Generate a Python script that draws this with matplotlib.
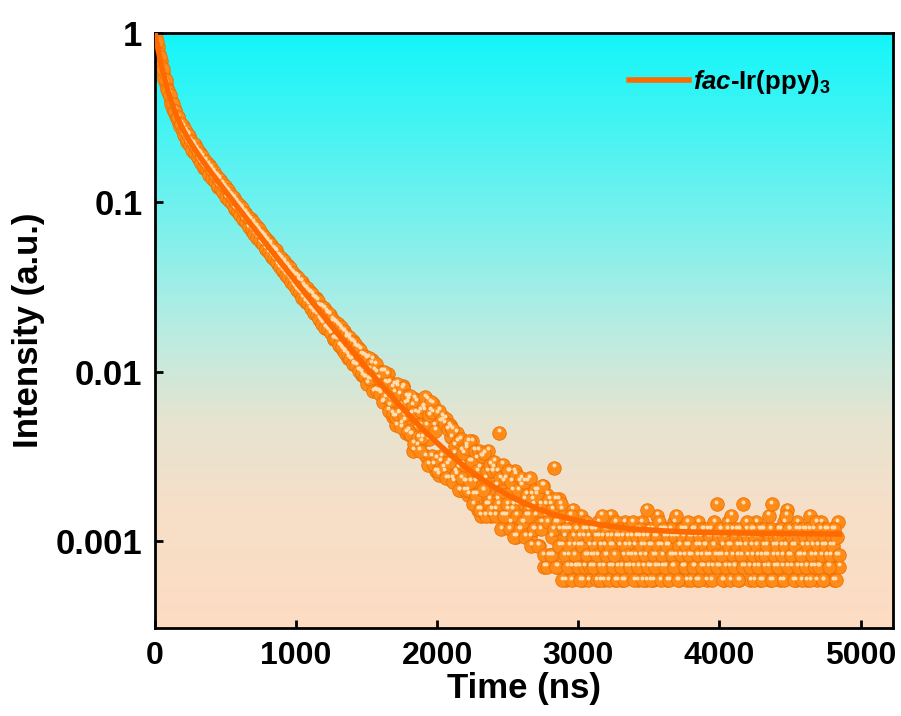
import numpy as np
import matplotlib
matplotlib.use("Agg")
import matplotlib.pyplot as plt
from matplotlib.colors import LinearSegmentedColormap
from matplotlib.ticker import FixedLocator, FixedFormatter, NullLocator
from matplotlib.transforms import ScaledTranslation

plt.rcParams['font.family'] = ['Liberation Sans', 'DejaVu Sans']
plt.rcParams['font.weight'] = 'bold'
plt.rcParams['mathtext.fontset'] = 'custom'
plt.rcParams['mathtext.rm'] = 'Liberation Sans:bold'
plt.rcParams['mathtext.bf'] = 'Liberation Sans:bold'
plt.rcParams['mathtext.it'] = 'Liberation Sans:italic:bold'

# --- data -------------------------------------------------------------------
# TRPL decay, photon counts (peak normalised to 1), 5 ns channels split in
# the even (0, 10, 20 ...) and odd (5, 15, 25 ...) channels
peak_counts = 8500
time_even = np.arange(0, 4860, 10)
time_odd = np.arange(5, 4850, 10)

counts_even = [
    8500, 7590, 7010, 6240, 5840, 5210, 4930, 4460, 4250, 3870,
    3720, 3390, 3310, 3040, 2990, 2750, 2720, 2510, 2500, 2310,
    2388, 2105, 2203, 1924, 2100, 1861, 1917, 1715, 1842, 1635,
    1721, 1530, 1660, 1463, 1527, 1358, 1477, 1329, 1415, 1236,
    1344, 1174, 1253, 1128, 1202, 1049, 1154, 1019, 1066, 960,
    1033, 903, 992, 867, 927, 834, 899, 777, 847, 748,
    814, 712, 768, 670, 737, 652, 688, 614, 674, 578,
    630, 550, 611, 529, 571, 493, 549, 485, 523, 452,
    502, 431, 474, 405, 451, 394, 433, 367, 405, 353,
    393, 334, 371, 321, 360, 302, 336, 291, 323, 271,
    314, 257, 292, 247, 288, 238, 268, 220, 257, 213,
    250, 199, 233, 192, 231, 185, 210, 171, 206, 165,
    200, 155, 187, 149, 184, 145, 169, 133, 166, 131,
    159, 121, 150, 115, 147, 113, 135, 103, 132, 101,
    129, 94, 120, 92, 118, 87, 108, 81, 106, 79,
    102, 76, 88, 78, 100, 77, 66, 84, 76, 65,
    65, 85, 57, 73, 64, 82, 54, 58, 69, 46,
    64, 41, 70, 49, 54, 42, 70, 44, 37, 56,
    58, 36, 48, 29, 59, 40, 31, 48, 41, 33,
    52, 50, 27, 58, 34, 50, 27, 55, 41, 22,
    48, 21, 43, 27, 46, 22, 45, 24, 20, 41,
    35, 20, 28, 22, 37, 23, 17, 29, 24, 19,
    19, 31, 16, 25, 21, 33, 16, 19, 26, 13,
    23, 12, 27, 17, 20, 14, 29, 15, 12, 22,
    23, 13, 18, 15, 37, 16, 12, 19, 16, 12,
    13, 22, 11, 17, 14, 22, 9, 14, 19, 10,
    18, 11, 15, 12, 19, 13, 9, 16, 14, 10,
    12, 17, 8, 14, 11, 18, 6, 12, 16, 7,
    14, 9, 7, 23, 11, 6, 15, 10, 13, 8,
    9, 5, 11, 7, 10, 6, 13, 8, 6, 10,
    8, 6, 12, 5, 9, 7, 10, 5, 8, 7,
    10, 7, 9, 5, 11, 6, 8, 9, 5, 10,
    7, 9, 6, 12, 8, 10, 5, 9, 6, 8,
    10, 5, 7, 11, 6, 9, 8, 10, 7, 6,
    8, 10, 5, 9, 7, 11, 6, 8, 5, 9,
    10, 6, 8, 5, 9, 7, 12, 6, 10, 8,
    6, 9, 10, 5, 8, 7, 9, 6, 11, 7,
    9, 5, 8, 10, 6, 7, 10, 5, 8, 9,
    7, 10, 6, 9, 5, 11, 8, 7, 10, 6,
    8, 5, 9, 7, 10, 6, 8, 9, 14, 7,
    6, 10, 8, 5, 9, 7, 11, 6, 8, 10,
    9, 6, 10, 7, 5, 8, 9, 14, 6, 10,
    7, 9, 5, 8, 10, 6, 11, 7, 9, 5,
    10, 8, 6, 9, 7, 12, 5, 14, 8, 6,
    9, 7, 10, 5, 8, 6, 11, 9, 13, 7,
    10, 6, 8, 9, 5, 11, 7, 10, 6, 8,
    7, 10, 5, 9, 12, 6, 8, 10, 7, 5,
    9, 6, 11, 8, 5, 10, 7, 9, 6, 8,
    10, 5, 9, 7, 11, 6,
]

counts_odd = [
    7910, 7507, 6413, 6144, 5405, 5224, 4546, 4479, 3972, 3868,
    3670, 3258, 3241, 2924, 2954, 2681, 2696, 2408, 2481, 2248,
    2121, 2263, 1999, 2135, 1853, 1966, 1741, 1886, 1659, 1763,
    1567, 1667, 1452, 1593, 1391, 1497, 1332, 1406, 1239, 1361,
    1189, 1293, 1142, 1218, 1062, 1168, 1021, 1100, 981, 1057,
    914, 1005, 878, 947, 845, 909, 787, 858, 757, 824,
    720, 792, 679, 739, 653, 710, 608, 676, 591, 649,
    556, 613, 525, 589, 510, 555, 480, 534, 453, 504,
    431, 484, 415, 456, 391, 443, 376, 413, 351, 398,
    338, 382, 317, 361, 309, 347, 289, 327, 278, 314,
    259, 306, 250, 289, 233, 273, 225, 265, 216, 250,
    202, 243, 190, 229, 185, 223, 175, 206, 163, 201,
    155, 193, 151, 186, 143, 173, 133, 168, 132, 162,
    122, 156, 119, 147, 110, 141, 107, 137, 101, 128,
    95, 124, 93, 119, 86, 115, 84, 106, 79, 104,
    72, 103, 77, 95, 65, 87, 94, 65, 78, 63,
    85, 56, 85, 60, 72, 50, 73, 58, 48, 71,
    46, 72, 48, 62, 40, 68, 47, 55, 61, 38,
    61, 36, 54, 32, 49, 57, 35, 29, 50, 35,
    53, 60, 41, 24, 47, 56, 49, 24, 38, 26,
    22, 50, 25, 44, 23, 42, 20, 39, 25, 40,
    39, 19, 31, 21, 33, 17, 34, 20, 28, 17,
    30, 17, 33, 19, 25, 14, 29, 16, 22, 29,
    13, 27, 17, 28, 12, 22, 14, 24, 13, 22,
    25, 12, 22, 14, 20, 10, 24, 12, 20, 14,
    22, 10, 19, 13, 9, 21, 12, 17, 10, 20,
    11, 19, 9, 16, 12, 20, 8, 15, 10, 17,
    16, 8, 13, 10, 18, 7, 14, 6, 11, 15,
    7, 13, 10, 15, 6, 11, 8, 14, 5, 10,
    7, 10, 6, 8, 12, 5, 9, 7, 10, 6,
    9, 5, 8, 10, 6, 11, 7, 9, 6, 10,
    6, 8, 10, 7, 9, 5, 12, 6, 8, 7,
    10, 5, 8, 9, 6, 7, 11, 5, 9, 10,
    6, 9, 5, 8, 10, 7, 6, 9, 11, 5,
    7, 9, 6, 10, 8, 5, 9, 7, 13, 6,
    8, 5, 10, 7, 6, 9, 8, 11, 5, 7,
    10, 6, 8, 9, 5, 10, 7, 6, 9, 12,
    5, 8, 7, 10, 9, 6, 8, 11, 7, 5,
    9, 6, 10, 8, 7, 5, 9, 6, 10, 8,
    7, 10, 6, 9, 5, 8, 11, 7, 6, 9,
    10, 7, 5, 9, 6, 10, 8, 5, 12, 7,
    6, 9, 8, 5, 10, 7, 6, 9, 8, 11,
    9, 6, 10, 7, 5, 9, 8, 6, 10, 7,
    5, 10, 7, 8, 6, 9, 10, 5, 7, 9,
    8, 6, 9, 10, 7, 5, 8, 12, 6, 10,
    7, 9, 5, 8, 10, 6, 9, 7, 5, 10,
    9, 6, 8, 10, 5, 7, 9, 6, 11, 8,
    6, 10, 7, 5, 9, 8, 10, 6, 7, 9,
    8, 10, 5, 9, 7,
]

# exponential fit curve
fit_t = [0, 20, 40, 60, 80, 100, 130, 160, 200, 250, 300, 400, 500, 600,
         700, 800, 900, 1000, 1100, 1200, 1300, 1400, 1500, 1600, 1700,
         1800, 1900, 2000, 2100, 2200, 2300, 2400, 2500, 2600, 2700, 2800,
         2900, 3000, 3200, 3400, 3600, 3800, 4000, 4400, 4850]
fit_v = [1.0, 0.816, 0.678, 0.573, 0.493, 0.432, 0.364, 0.315, 0.268, 0.226,
         0.195, 0.149, 0.116, 0.0904, 0.0706, 0.0552, 0.0433, 0.0339, 0.0267,
         0.0210, 0.0166, 0.0132, 0.0105, 0.00843, 0.00681, 0.00554, 0.00456,
         0.0038, 0.0032, 0.00273, 0.00237, 0.00209, 0.00187, 0.00170, 0.00157,
         0.00146, 0.00138, 0.00132, 0.00123, 0.00118, 0.00115, 0.00113,
         0.00112, 0.00111, 0.0011]

x_ticks = [0, 1000, 2000, 3000, 4000, 5000]
y_ticks = [0.001, 0.01, 0.1, 1]
y_tick_labels = ['0.001', '0.01', '0.1', '1']

time_ns = np.concatenate([time_even, time_odd])
intensity = np.concatenate([counts_even, counts_odd]) / peak_counts

# --- figure -----------------------------------------------------------------
fig = plt.figure(figsize=(9.01, 7.16), dpi=100)
pos = [155 / 901, 1 - 628 / 716, 738 / 901, 595 / 716]

# gradient background (cyan on top, peach at the bottom)
bg = fig.add_axes(pos, zorder=0)
cmap = LinearSegmentedColormap.from_list('bg', [
    (0.0, '#FDDCC3'), (0.2, '#F6DFC8'), (0.35, '#E6E4D0'),
    (0.5, '#B9ECE2'), (0.7, '#74F1EE'), (1.0, '#12F6F9')])
grad = np.linspace(0, 1, 256).reshape(-1, 1)
bg.imshow(grad, aspect='auto', cmap=cmap, origin='lower', extent=[0, 1, 0, 1])
bg.axis('off')

ax = fig.add_axes(pos, zorder=1)
ax.patch.set_alpha(0)

ax.scatter(time_ns, intensity, s=95, c='#FF8C18', edgecolors='#EE7000',
           linewidths=0.6, zorder=2)
# small highlight on each bead
shift = ScaledTranslation(-0.5 / 100, 2.5 / 100, fig.dpi_scale_trans)
ax.scatter(time_ns, intensity, s=8, c='#FFDDB0', linewidths=0,
           transform=ax.transData + shift, zorder=2.1)

ax.plot(fit_t, fit_v, color='#FF6A00', lw=4, zorder=3,
        label=r'$\mathit{fac}$-Ir(ppy)$_{3}$')

ax.set_yscale('log')
ax.set_xlim(0, 5230)
ax.set_ylim(3.07e-4, 1)
ax.xaxis.set_major_locator(FixedLocator(x_ticks))
ax.yaxis.set_major_locator(FixedLocator(y_ticks))
ax.yaxis.set_major_formatter(FixedFormatter(y_tick_labels))
ax.yaxis.set_minor_locator(NullLocator())

ax.tick_params(direction='in', length=6, width=2, pad=9)
ax.tick_params(axis='x', labelsize=23)
ax.tick_params(axis='y', labelsize=25)
for sp in ax.spines.values():
    sp.set_linewidth(2)

ax.set_xlabel('Time (ns)', fontsize=25, fontweight='bold', labelpad=1)
ax.set_ylabel('Intensity (a.u.)', fontsize=25, fontweight='bold', labelpad=8)

ax.legend(loc='upper right', bbox_to_anchor=(0.947, 0.98), frameon=False,
          fontsize=18.5, handlelength=2.35, handletextpad=0.15)

fig.savefig('out.png', dpi=100)
